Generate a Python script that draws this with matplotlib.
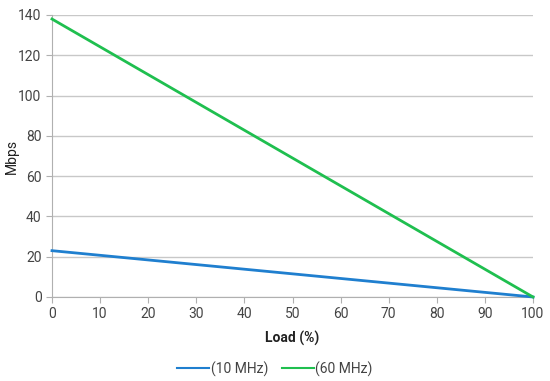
import matplotlib
matplotlib.use("Agg")
import matplotlib.pyplot as plt

load = [0, 100]
mbps_10 = [23, 0]
mbps_60 = [138, 0]
series_labels = ["(10 MHz)", "(60 MHz)"]
xticks = [0, 10, 20, 30, 40, 50, 60, 70, 80, 90, 100]
yticks = [0, 20, 40, 60, 80, 100, 120, 140]

plt.rcParams['font.family'] = ['Roboto', 'DejaVu Sans']

fig = plt.figure(figsize=(5.5, 3.81), dpi=100)
ax = fig.add_axes([52/550, 1-297/381, (533-52)/550, (297-15)/381])

ax.plot(load, mbps_10, color="#1f7fcf", lw=2, label=series_labels[0], clip_on=False, zorder=3)
ax.plot(load, mbps_60, color="#1fbf4f", lw=2, label=series_labels[1], clip_on=False, zorder=3)

ax.set_xlim(0, 100)
ax.set_ylim(0, 140)
ax.set_xticks(xticks)
ax.set_yticks(yticks)
ax.grid(axis='y', color="#c8c8c8", lw=1)
ax.set_axisbelow(True)
for s in ['top', 'right']:
    ax.spines[s].set_visible(False)
for s in ['left', 'bottom']:
    ax.spines[s].set_color("#b0b0b0")
ax.tick_params(axis='both', colors="#b0b0b0", labelcolor="#444444", labelsize=10, length=4)
ax.set_xlabel("Load (%)", fontweight='bold', fontsize=10, color="#222222", labelpad=7)
ax.set_ylabel("Mbps", fontsize=10, color="#222222")
ax.yaxis.set_label_coords(-33/481, 0.5)

fig.legend(loc='center', bbox_to_anchor=(0.5, 1-369/381), ncol=2, frameon=False,
           fontsize=10, handlelength=2.3, handletextpad=0.1, columnspacing=1.0,
           labelcolor="#444444")
for line in fig.legends[0].get_lines():
    line.set_linewidth(1.5)

fig.savefig("out.png", dpi=100)
